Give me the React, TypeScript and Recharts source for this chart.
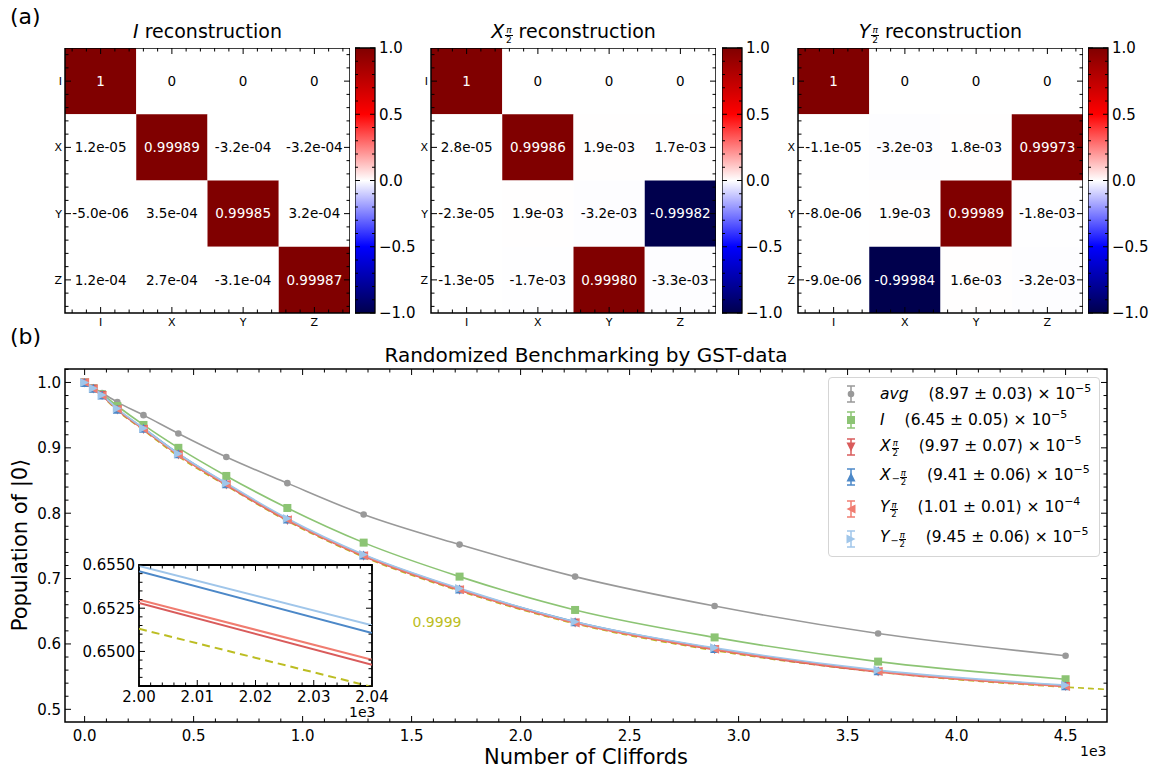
import React from "react";
import {
  LineChart,
  Line,
  XAxis,
  YAxis,
  ScatterChart,
  Scatter,
  ReferenceArea,
} from "recharts";

const FONT = "'DejaVu Sans', Verdana, sans-serif";

// ---------- (a) process matrices, rows/cols I X Y Z ----------
const PAULI = ["I", "X", "Y", "Z"];

const I_CELLS = [
  ["1", "0", "0", "0"],
  ["1.2e-05", "0.99989", "-3.2e-04", "-3.2e-04"],
  ["-5.0e-06", "3.5e-04", "0.99985", "3.2e-04"],
  ["1.2e-04", "2.7e-04", "-3.1e-04", "0.99987"],
];

const XP_CELLS = [
  ["1", "0", "0", "0"],
  ["2.8e-05", "0.99986", "1.9e-03", "1.7e-03"],
  ["-2.3e-05", "1.9e-03", "-3.2e-03", "-0.99982"],
  ["-1.3e-05", "-1.7e-03", "0.99980", "-3.3e-03"],
];

const YP_CELLS = [
  ["1", "0", "0", "0"],
  ["-1.1e-05", "-3.2e-03", "1.8e-03", "0.99973"],
  ["-8.0e-06", "1.9e-03", "0.99989", "-1.8e-03"],
  ["-9.0e-06", "-0.99984", "1.6e-03", "-3.2e-03"],
];

const CB_MAJOR = [-1, -0.5, 0, 0.5, 1];

// ---------- (b) randomized benchmarking ----------
const CLIFFORDS = [0, 40, 80, 150, 270, 430, 650, 930, 1280, 1720, 2250, 2890, 3640, 4500];
const AVG = [1.0, 0.992, 0.984, 0.97, 0.95, 0.922, 0.886, 0.846, 0.798, 0.752, 0.703, 0.658, 0.616, 0.582];
const GATE_I = [1.0, 0.991, 0.982, 0.964, 0.935, 0.9, 0.857, 0.808, 0.755, 0.703, 0.652, 0.61, 0.573, 0.546];
const X_P = [0.999, 0.99, 0.98, 0.958, 0.928, 0.889, 0.843, 0.789, 0.734, 0.682, 0.632, 0.591, 0.557, 0.535];
const X_M = [1.0, 0.991, 0.981, 0.959, 0.93, 0.891, 0.845, 0.791, 0.736, 0.684, 0.634, 0.593, 0.559, 0.536];
const Y_P = [1.0, 0.99, 0.98, 0.959, 0.929, 0.889, 0.844, 0.79, 0.735, 0.683, 0.632, 0.592, 0.558, 0.535];
const Y_M = [1.0, 0.991, 0.981, 0.96, 0.93, 0.891, 0.846, 0.792, 0.737, 0.685, 0.634, 0.594, 0.56, 0.537];

const FIT_CLIFFORDS = [0, 40, 80, 150, 270, 430, 650, 930, 1280, 1720, 2250, 2890, 3640, 4500, 4690];
const FIT_9999 = [1.0, 0.99, 0.979, 0.957, 0.927, 0.887, 0.842, 0.788, 0.733, 0.681, 0.631, 0.59, 0.557, 0.534, 0.5305];

// inset: zoom at 2000..2040 Cliffords
const INSET_X = [2000, 2040];
const INSET_YM = [0.65494, 0.65151];
const INSET_XM = [0.65464, 0.65107];
const INSET_YP = [0.65299, 0.64952];
const INSET_XP = [0.6528, 0.64923];
const INSET_FIT = [0.65131, 0.64795];

const C_AVG = "#999999";
const C_I = "#8cc474";
const C_XP = "#d95b5b";
const C_XM = "#4c88c8";
const C_YP = "#f07c70";
const C_YM = "#a0c6ea";
const C_FIT = "#bcbd22";

const SERIES = [
  { key: "avg", color: C_AVG, kind: "circle" },
  { key: "I", color: C_I, kind: "square" },
  { key: "Xp", color: C_XP, kind: "down" },
  { key: "Xm", color: C_XM, kind: "up" },
  { key: "Yp", color: C_YP, kind: "left" },
  { key: "Ym", color: C_YM, kind: "right" },
];

const mainRows = FIT_CLIFFORDS.map((x, i) => {
  const j = CLIFFORDS.indexOf(x);
  const row: any = { x, fit: FIT_9999[i] };
  if (j >= 0) {
    row.avg = AVG[j];
    row.I = GATE_I[j];
    row.Xp = X_P[j];
    row.Xm = X_M[j];
    row.Yp = Y_P[j];
    row.Ym = Y_M[j];
  }
  return row;
});

const insetRows = INSET_X.map((x, i) => ({
  x,
  Ym: INSET_YM[i],
  Xm: INSET_XM[i],
  Yp: INSET_YP[i],
  Xp: INSET_XP[i],
  fit: INSET_FIT[i],
}));

// ---------- helpers ----------
const SEISMIC: [number, number[]][] = [
  [0, [0, 0, 0.3]],
  [0.25, [0, 0, 1]],
  [0.5, [1, 1, 1]],
  [0.75, [1, 0, 0]],
  [1, [0.5, 0, 0]],
];

function seismic(v: number) {
  const t = Math.min(1, Math.max(0, (v + 1) / 2));
  for (let i = 1; i < SEISMIC.length; i++) {
    const [t0, c0] = SEISMIC[i - 1];
    const [t1, c1] = SEISMIC[i];
    if (t <= t1) {
      const f = (t - t0) / (t1 - t0);
      const c = c0.map((a, k) => Math.round(255 * (a + (c1[k] - a) * f)));
      return `rgb(${c.join(",")})`;
    }
  }
  return "rgb(128,0,0)";
}

function range(from: number, to: number, step: number, dec: number) {
  const out: number[] = [];
  const n = Math.round((to - from) / step);
  for (let i = 0; i <= n; i++) out.push(Number((from + i * step).toFixed(dec)));
  return out;
}

// inward ticks on both opposite edges, label only on majors
function bottomTick(span: number, isMajor: (v: number) => boolean, fmt: (v: number) => string, fs: number, gap: number) {
  return (p: any) => {
    const v = p.payload.value;
    const maj = isMajor(v);
    const len = maj ? 6 : 3.5;
    return (
      <g key={`bt-${v}`}>
        <line x1={p.x} x2={p.x} y1={p.y} y2={p.y - len} stroke="#000" strokeWidth={1} />
        <line x1={p.x} x2={p.x} y1={p.y - span} y2={p.y - span + len} stroke="#000" strokeWidth={1} />
        {maj && (
          <text x={p.x} y={p.y + gap} dy="0.71em" textAnchor="middle" fontSize={fs} fontFamily={FONT} fill="#000">
            {fmt(v)}
          </text>
        )}
      </g>
    );
  };
}

function leftTick(span: number, isMajor: (v: number) => boolean, fmt: (v: number) => string, fs: number, gap: number) {
  return (p: any) => {
    const v = p.payload.value;
    const maj = isMajor(v);
    const len = maj ? 6 : 3.5;
    return (
      <g key={`lt-${v}`}>
        <line x1={p.x} x2={p.x + len} y1={p.y} y2={p.y} stroke="#000" strokeWidth={1} />
        <line x1={p.x + span} x2={p.x + span - len} y1={p.y} y2={p.y} stroke="#000" strokeWidth={1} />
        {maj && (
          <text x={p.x - gap} y={p.y} dy="0.355em" textAnchor="end" fontSize={fs} fontFamily={FONT} fill="#000">
            {fmt(v)}
          </text>
        )}
      </g>
    );
  };
}

function rightTick(span: number, isMajor: (v: number) => boolean, fmt: (v: number) => string, fs: number, gap: number) {
  return (p: any) => {
    const v = p.payload.value;
    const maj = isMajor(v);
    const len = maj ? 5 : 3;
    return (
      <g key={`rt-${v}`}>
        <line x1={p.x} x2={p.x - len} y1={p.y} y2={p.y} stroke="#000" strokeWidth={1} />
        <line x1={p.x - span} x2={p.x - span + len} y1={p.y} y2={p.y} stroke="#000" strokeWidth={1} />
        {maj && (
          <text x={p.x + gap} y={p.y} dy="0.355em" textAnchor="start" fontSize={fs} fontFamily={FONT} fill="#000">
            {fmt(v)}
          </text>
        )}
      </g>
    );
  };
}

function Marker({ cx, cy, kind, color }: any) {
  if (cx == null || cy == null || isNaN(cx) || isNaN(cy)) return null;
  const s = 4.5;
  switch (kind) {
    case "circle":
      return <circle cx={cx} cy={cy} r={3.3} fill={color} />;
    case "square":
      return <rect x={cx - 4} y={cy - 4} width={8} height={8} fill={color} />;
    case "down":
      return <polygon points={`${cx - s},${cy - s} ${cx + s},${cy - s} ${cx},${cy + s}`} fill={color} />;
    case "up":
      return <polygon points={`${cx - s},${cy + s} ${cx + s},${cy + s} ${cx},${cy - s}`} fill={color} />;
    case "left":
      return <polygon points={`${cx + s},${cy - s} ${cx + s},${cy + s} ${cx - s},${cy}`} fill={color} />;
    default:
      return <polygon points={`${cx - s},${cy - s} ${cx - s},${cy + s} ${cx + s},${cy}`} fill={color} />;
  }
}

// small stacked pi/2 subscript, as in mathtext X_{\frac{\pi}{2}}
function Frac({ size, neg, drop }: { size: number; neg?: boolean; drop: number }) {
  return (
    <span style={{ fontStyle: "normal", marginLeft: 1, whiteSpace: "nowrap" }}>
      {neg && <span style={{ fontSize: size * 1.15, verticalAlign: -drop * 0.35 }}>−</span>}
      <span
        style={{
          display: "inline-block",
          verticalAlign: -drop,
          fontSize: size,
          lineHeight: 1,
          textAlign: "center",
        }}
      >
        <span style={{ display: "block", fontStyle: "italic", padding: "0 1px" }}>π</span>
        <span style={{ display: "block", borderTop: "0.8px solid currentColor" }}>2</span>
      </span>
    </span>
  );
}

// ---------- heatmap panel ----------
const HM_TOP = 48;
const HM_W = 285;
const HM_H = 265;
const HM_YW = 30;
const HM_XH = 24;
const HM_TICKS = range(-0.4, 3.4, 0.2, 1);
const isInt = (v: number) => Math.abs(v - Math.round(v)) < 1e-6;
const CB_W = 20;
const CB_PAD = 12;
const CB_DATA = [
  { x: 0, y: 0 },
  { x: 1, y: 0 },
];

function Colorbar({ left, id }: { left: number; id: string }) {
  const stops = [0, 0.125, 0.25, 0.375, 0.5, 0.625, 0.75, 0.875, 1];
  return (
    <div style={{ position: "absolute", left, top: HM_TOP - CB_PAD }}>
      <LineChart
        width={CB_W + 45}
        height={HM_H + 2 * CB_PAD}
        margin={{ top: CB_PAD, right: 0, bottom: CB_PAD, left: 0 }}
        data={CB_DATA}
      >
        <defs>
          <linearGradient id={id} x1="0" y1="1" x2="0" y2="0">
            {stops.map((t) => (
              <stop key={t} offset={t} stopColor={seismic(t * 2 - 1)} />
            ))}
          </linearGradient>
        </defs>
        <XAxis type="number" dataKey="x" domain={[0, 1]} hide />
        <YAxis
          orientation="right"
          type="number"
          domain={[-1, 1]}
          allowDataOverflow
          ticks={range(-1, 1, 0.1, 1)}
          interval={0}
          tickSize={0}
          tickMargin={0}
          axisLine={false}
          width={45}
          tick={rightTick(
            CB_W,
            (v) => CB_MAJOR.includes(v),
            (v) => (v < 0 ? "−" + Math.abs(v).toFixed(1) : v.toFixed(1)),
            15,
            4
          )}
        />
        <ReferenceArea x1={0} x2={1} y1={-1} y2={1} fill={`url(#${id})`} fillOpacity={1} stroke="none" ifOverflow="visible" />
        <Line dataKey="y" stroke="none" dot={false} isAnimationActive={false} />
        <ReferenceArea x1={0} x2={1} y1={-1} y2={1} fill="none" stroke="#000" strokeWidth={1.3} ifOverflow="visible" />
      </LineChart>
    </div>
  );
}

function Heatmap({ cells, left, cbLeft, id, title }: any) {
  const data = cells.flatMap((row: string[], r: number) => row.map((s, c) => ({ r, c, s, v: Number(s) })));
  return (
    <>
      <div style={{ position: "absolute", left: left - HM_YW, top: HM_TOP }}>
        <ScatterChart width={HM_YW + HM_W} height={HM_H + HM_XH} margin={{ top: 0, right: 0, bottom: 0, left: 0 }}>
          <XAxis
            type="number"
            dataKey="c"
            domain={[-0.5, 3.5]}
            allowDataOverflow
            ticks={HM_TICKS}
            interval={0}
            tickSize={0}
            tickMargin={0}
            axisLine={false}
            height={HM_XH}
            tick={bottomTick(HM_H, isInt, (v) => PAULI[Math.round(v)], 11, 5)}
          />
          <YAxis
            type="number"
            dataKey="r"
            domain={[-0.5, 3.5]}
            reversed
            allowDataOverflow
            ticks={HM_TICKS}
            interval={0}
            tickSize={0}
            tickMargin={0}
            axisLine={false}
            width={HM_YW}
            tick={leftTick(HM_W, isInt, (v) => PAULI[Math.round(v)], 11, 3)}
          />
          {data.map((d: any) => (
            <ReferenceArea
              key={`${d.r}-${d.c}`}
              x1={d.c - 0.5}
              x2={d.c + 0.5}
              y1={d.r - 0.5}
              y2={d.r + 0.5}
              fill={seismic(d.v)}
              fillOpacity={1}
              stroke="none"
              ifOverflow="visible"
            />
          ))}
          <ReferenceArea x1={-0.5} x2={3.5} y1={-0.5} y2={3.5} fill="none" stroke="#000" strokeWidth={1.5} ifOverflow="visible" />
          <Scatter
            data={data}
            isAnimationActive={false}
            shape={(p: any) => (
              <text
                x={p.cx}
                y={p.cy}
                dy="0.355em"
                textAnchor="middle"
                fontSize={13.5}
                fontFamily={FONT}
                fill={Math.abs(p.payload.v) > 0.5 ? "#fff" : "#000"}
              >
                {p.payload.s}
              </text>
            )}
          />
        </ScatterChart>
      </div>
      <div
        style={{
          position: "absolute",
          left,
          width: HM_W,
          top: 19,
          textAlign: "center",
          fontSize: 19,
          lineHeight: "24px",
          whiteSpace: "nowrap",
        }}
      >
        {title}
      </div>
      <Colorbar left={cbLeft} id={id} />
    </>
  );
}

// ---------- (b) main chart ----------
const M_TOP = 340;
const M_W = 1159;
const M_H = 430;
const M_MARGIN = { top: 29, right: 52, bottom: 0, left: 0 };
const M_YW = 65;
const M_XH = 48;
const M_PLOT_W = M_W - M_MARGIN.right - M_YW;
const M_PLOT_H = M_H - M_MARGIN.top - M_XH;
const X_DOMAIN = [-90, 4690];
const Y_DOMAIN = [0.4806, 1.0206];

const LEGEND = [
  { key: "avg", name: <i>avg</i>, value: "(8.97 ± 0.03) × 10", exp: "−5", color: C_AVG, kind: "circle", h: 26 },
  { key: "I", name: <i>I</i>, value: "(6.45 ± 0.05) × 10", exp: "−5", color: C_I, kind: "square", h: 26 },
  { key: "Xp", name: <><i>X</i><Frac size={8.5} drop={5} /></>, value: "(9.97 ± 0.07) × 10", exp: "−5", color: C_XP, kind: "down", h: 28 },
  { key: "Xm", name: <><i>X</i><Frac size={8.5} drop={5} neg /></>, value: "(9.41 ± 0.06) × 10", exp: "−5", color: C_XM, kind: "up", h: 32 },
  { key: "Yp", name: <><i>Y</i><Frac size={8.5} drop={5} /></>, value: "(1.01 ± 0.01) × 10", exp: "−4", color: C_YP, kind: "left", h: 31 },
  { key: "Ym", name: <><i>Y</i><Frac size={8.5} drop={5} neg /></>, value: "(9.45 ± 0.06) × 10", exp: "−5", color: C_YM, kind: "right", h: 30 },
];

function LegendIcon({ color, kind }: any) {
  return (
    <svg width={16} height={22} style={{ flex: "none" }}>
      <line x1={8} x2={8} y1={3} y2={19} stroke={color} strokeWidth={1.5} />
      <line x1={4} x2={12} y1={3} y2={3} stroke={color} strokeWidth={1.5} />
      <line x1={4} x2={12} y1={19} y2={19} stroke={color} strokeWidth={1.5} />
      <Marker cx={8} cy={11} kind={kind} color={color} />
    </svg>
  );
}

function MainLegend() {
  return (
    <div
      style={{
        position: "absolute",
        left: 828,
        top: 377,
        width: 272,
        height: 180,
        boxSizing: "border-box",
        border: "1px solid #d5d5d5",
        borderRadius: 4,
        background: "rgba(255,255,255,0.85)",
        paddingTop: 3,
        fontSize: 15.5,
      }}
    >
      {LEGEND.map((r) => (
        <div key={r.key} style={{ display: "flex", alignItems: "center", height: r.h, paddingLeft: 14, whiteSpace: "nowrap" }}>
          <LegendIcon color={r.color} kind={r.kind} />
          <div style={{ marginLeft: 21, lineHeight: "18px" }}>
            {r.name}
            <span style={{ marginLeft: 20 }}>
              {r.value}
              <sup style={{ fontSize: 11, verticalAlign: 7, lineHeight: 0 }}>{r.exp}</sup>
            </span>
          </div>
        </div>
      ))}
    </div>
  );
}

function MainChart() {
  return (
    <div style={{ position: "absolute", left: 0, top: M_TOP }}>
      <LineChart width={M_W} height={M_H} margin={M_MARGIN} data={mainRows}>
        <XAxis
          type="number"
          dataKey="x"
          domain={X_DOMAIN}
          allowDataOverflow
          ticks={range(0, 4600, 100, 0)}
          interval={0}
          tickSize={0}
          tickMargin={0}
          axisLine={false}
          height={M_XH}
          tick={bottomTick(M_PLOT_H, (v) => v % 500 === 0, (v) => (v / 1000).toFixed(1), 15, 8)}
        />
        <YAxis
          type="number"
          domain={Y_DOMAIN}
          allowDataOverflow
          ticks={range(0.5, 1.02, 0.02, 2)}
          interval={0}
          tickSize={0}
          tickMargin={0}
          axisLine={false}
          width={M_YW}
          tick={leftTick(M_PLOT_W, (v) => Math.round(v * 100) % 10 === 0, (v) => v.toFixed(1), 15, 4)}
        />
        <Line
          dataKey="fit"
          type="monotone"
          stroke={C_FIT}
          strokeWidth={1.6}
          strokeDasharray="6 4"
          dot={false}
          isAnimationActive={false}
        />
        {SERIES.map((s) => (
          <Line
            key={s.key}
            dataKey={s.key}
            type="monotone"
            stroke={s.color}
            strokeWidth={1.6}
            isAnimationActive={false}
            dot={(p: any) => (
              <g key={`${s.key}-${p.index}`}>
                <Marker cx={p.cx} cy={p.cy} kind={s.kind} color={s.color} />
              </g>
            )}
          />
        ))}
        <ReferenceArea
          x1={X_DOMAIN[0]}
          x2={X_DOMAIN[1]}
          y1={Y_DOMAIN[0]}
          y2={Y_DOMAIN[1]}
          fill="none"
          stroke="#000"
          strokeWidth={1.5}
          ifOverflow="visible"
        />
      </LineChart>
    </div>
  );
}

// ---------- inset ----------
const IN_LEFT = 79;
const IN_TOP = 555;
const IN_W = 325;
const IN_H = 170;
const IN_MARGIN = { top: 10, right: 32, bottom: 0, left: 0 };
const IN_YW = 60;
const IN_XH = 39;
const IN_X_DOMAIN = [2000, 2040];
const IN_Y_DOMAIN = [0.648, 0.655];

function Inset() {
  const pw = IN_W - IN_MARGIN.right - IN_YW;
  const ph = IN_H - IN_MARGIN.top - IN_XH;
  return (
    <div style={{ position: "absolute", left: IN_LEFT, top: IN_TOP }}>
      <LineChart width={IN_W} height={IN_H} margin={IN_MARGIN} data={insetRows}>
        <XAxis
          type="number"
          dataKey="x"
          domain={IN_X_DOMAIN}
          allowDataOverflow
          ticks={range(2000, 2040, 2, 0)}
          interval={0}
          tickSize={0}
          tickMargin={0}
          axisLine={false}
          height={IN_XH}
          tick={bottomTick(ph, (v) => v % 10 === 0, (v) => (v / 1000).toFixed(2), 15, 5)}
        />
        <YAxis
          type="number"
          domain={IN_Y_DOMAIN}
          allowDataOverflow
          ticks={range(0.648, 0.655, 0.0005, 4)}
          interval={0}
          tickSize={0}
          tickMargin={0}
          axisLine={false}
          width={IN_YW}
          tick={leftTick(pw, (v) => Math.round(v * 10000) % 25 === 0, (v) => v.toFixed(4), 15, 4)}
        />
        <ReferenceArea x1={2000} x2={2040} y1={0.648} y2={0.655} fill="#fff" fillOpacity={1} stroke="none" ifOverflow="visible" />
        <Line dataKey="fit" stroke={C_FIT} strokeWidth={2} strokeDasharray="8 5" dot={false} isAnimationActive={false} />
        <Line dataKey="Xp" stroke={C_XP} strokeWidth={2} dot={false} isAnimationActive={false} />
        <Line dataKey="Yp" stroke={C_YP} strokeWidth={2} dot={false} isAnimationActive={false} />
        <Line dataKey="Xm" stroke={C_XM} strokeWidth={2} dot={false} isAnimationActive={false} />
        <Line dataKey="Ym" stroke={C_YM} strokeWidth={2} dot={false} isAnimationActive={false} />
        <ReferenceArea x1={2000} x2={2040} y1={0.648} y2={0.655} fill="none" stroke="#000" strokeWidth={1.8} ifOverflow="visible" />
      </LineChart>
    </div>
  );
}

const abs = (extra: React.CSSProperties): React.CSSProperties => ({ position: "absolute", whiteSpace: "nowrap", ...extra });

export default function App() {
  return (
    <div
      style={{
        position: "absolute",
        left: 0,
        top: 0,
        width: 1159,
        height: 770,
        background: "#fff",
        fontFamily: FONT,
        color: "#000",
        overflow: "hidden",
      }}
    >
      <div style={abs({ left: 10, top: 4, fontSize: 22 })}>(a)</div>
      <div style={abs({ left: 10, top: 324, fontSize: 22 })}>(b)</div>

      <Heatmap cells={I_CELLS} left={65} cbLeft={355} id="cb1" title={<><i>I</i> reconstruction</>} />
      <Heatmap
        cells={XP_CELLS}
        left={431}
        cbLeft={722}
        id="cb2"
        title={<><i>X</i><Frac size={9} drop={5} /> reconstruction</>}
      />
      <Heatmap
        cells={YP_CELLS}
        left={798}
        cbLeft={1088}
        id="cb3"
        title={<><i>Y</i><Frac size={9} drop={5} /> reconstruction</>}
      />

      <MainChart />
      <Inset />
      <MainLegend />

      <div style={abs({ left: 586, top: 355, fontSize: 20, transform: "translate(-50%, -50%)" })}>
        Randomized Benchmarking by GST-data
      </div>
      <div style={abs({ left: 586, top: 757, fontSize: 21, transform: "translate(-50%, -50%)" })}>Number of Cliffords</div>
      <div style={abs({ left: 20, top: 545, fontSize: 21, transform: "translate(-50%, -50%) rotate(-90deg)" })}>
        Population of |0⟩
      </div>
      <div style={abs({ left: 1080, top: 743, fontSize: 14 })}>1e3</div>
      <div style={abs({ left: 349, top: 704, fontSize: 14 })}>1e3</div>
      <div style={abs({ left: 437, top: 622, fontSize: 14, color: C_FIT, transform: "translate(-50%, -50%)" })}>0.9999</div>
    </div>
  );
}
